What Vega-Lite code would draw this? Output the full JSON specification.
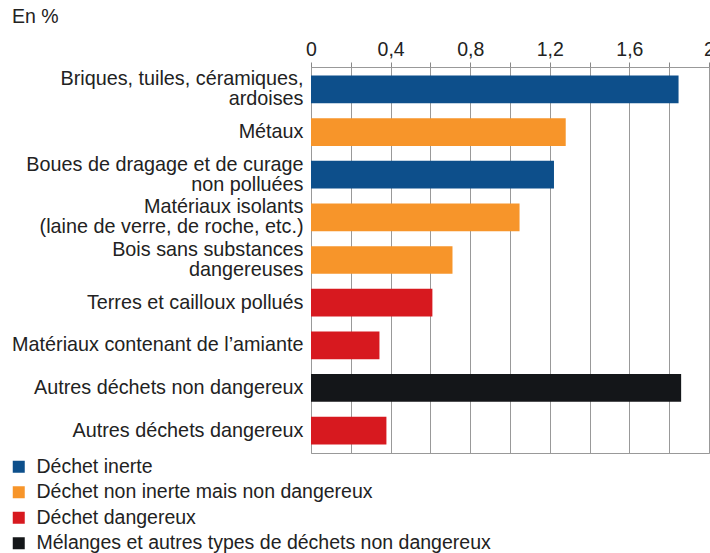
{
  "$schema": "https://vega.github.io/schema/vega-lite/v6.json",
  "width": 398,
  "height": 386,
  "autosize": "none",
  "padding": {"left": 311, "top": 67, "right": 1, "bottom": 100},
  "background": "white",
  "title": {"text": "En %", "anchor": "start", "frame": "group", "orient": "top", "dx": -299, "offset": 12, "fontSize": 19.5, "font": "Liberation Sans", "fontWeight": "normal", "color": "#222"},
  "config": {
    "view": {"stroke": "#999", "strokeWidth": 1},
    "font": "Liberation Sans"
  },
  "data": {
    "values": [
      {"label": "Briques, tuiles, céramiques,|ardoises", "value": 1.847, "type": "Déchet inerte"},
      {"label": "Métaux", "value": 1.28, "type": "Déchet non inerte mais non dangereux"},
      {"label": "Boues de dragage et de curage|non polluées", "value": 1.221, "type": "Déchet inerte"},
      {"label": "Matériaux isolants|(laine de verre, de roche, etc.)", "value": 1.048, "type": "Déchet non inerte mais non dangereux"},
      {"label": "Bois sans substances|dangereuses", "value": 0.711, "type": "Déchet non inerte mais non dangereux"},
      {"label": "Terres et cailloux pollués", "value": 0.61, "type": "Déchet dangereux"},
      {"label": "Matériaux contenant de l’amiante", "value": 0.344, "type": "Déchet dangereux"},
      {"label": "Autres déchets non dangereux", "value": 1.86, "type": "Mélanges et autres types de déchets non dangereux"},
      {"label": "Autres déchets dangereux", "value": 0.379, "type": "Déchet dangereux"}
    ]
  },
  "mark": {"type": "bar"},
  "encoding": {
    "y": {
      "field": "label", "type": "nominal", "sort": null,
      "scale": {"paddingInner": 0.35, "paddingOuter": 0.2},
      "axis": {"title": null, "ticks": false, "domain": false, "labelPadding": 8, "labelFontSize": 19.8, "labelColor": "#222", "labelLineHeight": 20, "labelExpr": "split(datum.label, '|')", "labelLimit": 400,
        "labelOffset": {"condition": {"test": "indexof(datum.value, '|') >= 0", "value": -10}, "value": 0}}
    },
    "x": {
      "field": "value", "type": "quantitative",
      "scale": {"domain": [0, 2], "nice": false},
      "axis": {
        "orient": "top", "title": null,
        "values": [0, 0.2, 0.4, 0.6, 0.8, 1.0, 1.2, 1.4, 1.6, 1.8, 2.0],
        "labelExpr": "(datum.value*10) % 4 < 0.01 ? replace(format(datum.value, '.1~f'), '.', ',') : ''",
        "labelFontSize": 19.5, "labelColor": "#222", "labelPadding": 3,
        "tickSize": 5, "tickColor": "#888", "domainColor": "#999",
        "grid": true, "gridColor": "#999", "gridWidth": 1,
        "labelFlush": false, "labelOverlap": false
      }
    },
    "color": {
      "field": "type", "type": "nominal",
      "scale": {
        "domain": ["Déchet inerte", "Déchet non inerte mais non dangereux", "Déchet dangereux", "Mélanges et autres types de déchets non dangereux"],
        "range": ["#0d4f8b", "#f7952a", "#d7191f", "#141619"]
      },
      "legend": {
        "title": null, "orient": "none", "legendX": -302, "legendY": 390,
        "symbolType": "square", "symbolSize": 144, "symbolStrokeWidth": 0,
        "labelFontSize": 19.5, "labelColor": "#222", "labelOffset": 8,
        "rowPadding": 4.5, "labelLimit": 600
      }
    }
  }
}
